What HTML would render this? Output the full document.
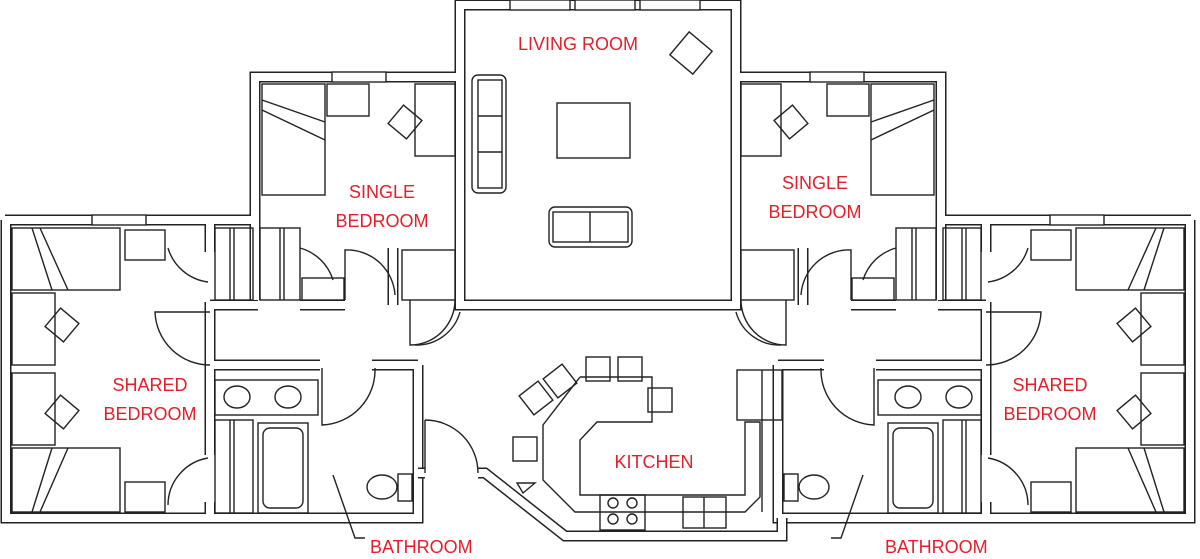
<!DOCTYPE html>
<html><head><meta charset="utf-8"><style>
html,body{margin:0;padding:0;background:#fff;}
svg{display:block}
text{font-family:"Liberation Sans",sans-serif;font-size:18px;fill:#e3202a;}
</style></head><body>
<svg width="1200" height="559" viewBox="0 0 1200 559" xmlns="http://www.w3.org/2000/svg">
<defs>
<path id="walls" d="M598,5 H460 V305 H598
M460,77 H255 V300
M5,220 H255
M6,220 V518 H418 V365
M210,220 V252 M210,302 V455 M210,502 V518
M210,305 H258 M300,305 H345
M393,248 V305
M210,365 H320 M372,365 H418"/>
<path id="kw" d="M418,473 H425 M478,473 H485 L565,536 H782 V518"/>
<g id="half" fill="none" stroke="#222" stroke-width="1.4">
  <rect x="332" y="72" width="54" height="10" fill="#fff"/>
  <rect x="92" y="215" width="54" height="10" fill="#fff"/>
  <rect x="262" y="84" width="63" height="111"/>
  <path d="M262,100 L325,122 M262,110 L325,140"/>
  <rect x="327" y="84" width="42" height="32"/>
  <rect x="415" y="84" width="40" height="72"/>
  <rect x="393" y="110" width="24" height="24" transform="rotate(40 405 122)"/>
  <rect x="260" y="228" width="40" height="72"/>
  <path d="M280,228 V300 M284,228 V300"/>
  <rect x="302" y="278" width="42" height="22"/>
  <path d="M345,300 V250 A48,48 0 0 1 395,295" />
  <path d="M300,248 A48,48 0 0 1 333,280"/>
  <rect x="215" y="228" width="38" height="72"/>
  <path d="M230,228 V300 M234,228 V300"/>
  <rect x="215" y="420" width="38" height="93"/>
  <path d="M230,420 V513 M234,420 V513"/>
  <rect x="12" y="228" width="108" height="62"/>
  <path d="M32,228 L52,290 M40,228 L68,290"/>
  <rect x="125" y="230" width="40" height="30"/>
  <path d="M168,248 A48,48 0 0 0 208,282"/>
  <rect x="12" y="293" width="43" height="72"/>
  <rect x="50" y="313" width="24" height="24" transform="rotate(40 62 325)"/>
  <rect x="12" y="373" width="43" height="72"/>
  <rect x="50" y="400" width="24" height="24" transform="rotate(40 62 412)"/>
  <rect x="12" y="448" width="108" height="64"/>
  <path d="M52,448 L32,512 M68,448 L40,512"/>
  <rect x="125" y="482" width="40" height="30"/>
  <path d="M168,505 A48,48 0 0 1 208,458"/>
  <path d="M210,312 H155 A55,55 0 0 0 210,365"/>
  <rect x="215" y="380" width="103" height="35"/>
  <ellipse cx="237" cy="397" rx="13" ry="11"/>
  <ellipse cx="288" cy="397" rx="13" ry="11"/>
  <rect x="258" y="423" width="50" height="90"/>
  <rect x="263" y="428" width="40" height="80" rx="7"/>
  <path d="M322,368 V425 A55,55 0 0 0 375,368"/>
  <ellipse cx="382" cy="487" rx="15" ry="12"/>
  <rect x="398" y="474" width="14" height="27"/>
  <rect x="402" y="250" width="53" height="50"/>
  <path d="M410,300 V345 A45,45 0 0 0 455,300"/>
  <path d="M460,312 A45,45 0 0 1 415,345"/>
  <path d="M333,475 L355,538 H365"/>
</g>
</defs>

<g fill="none" stroke-linecap="butt" stroke-linejoin="miter">
  <use href="#walls" stroke="#222" stroke-width="11"/>
  <use href="#walls" stroke="#fff" stroke-width="8"/>
  <use href="#walls" stroke="#222" stroke-width="11" transform="matrix(-1 0 0 1 1196 0)"/>
  <use href="#walls" stroke="#fff" stroke-width="8" transform="matrix(-1 0 0 1 1196 0)"/>
  <use href="#kw" stroke="#222" stroke-width="11"/>
  <use href="#kw" stroke="#fff" stroke-width="8"/>
</g>

<use href="#half"/>
<use href="#half" transform="matrix(-1 0 0 1 1196 0)"/>

<g fill="none" stroke="#222" stroke-width="1.4">
  <path d="M425,420 V473 M425,420 A53,53 0 0 1 478,473"/>
  <rect x="510" y="0" width="60" height="10" fill="#fff"/>
  <rect x="575" y="0" width="60" height="10" fill="#fff"/>
  <rect x="640" y="0" width="60" height="10" fill="#fff"/>
  <rect x="472" y="75" width="34" height="118" rx="6"/>
  <rect x="478" y="80" width="24" height="108"/>
  <path d="M478,116 H502 M478,152 H502"/>
  <rect x="557" y="103" width="73" height="55"/>
  <rect x="549" y="207" width="83" height="40" rx="6"/>
  <rect x="553" y="212" width="75" height="30"/>
  <path d="M590,212 V242"/>
  <rect x="676" y="38" width="30" height="30" transform="rotate(40 691 53)"/>
  <path d="M580,377 H652 V422 H597 L580,440 V495 H745 V422 H760 V497 L745,512 H575 L543,480 V425 L580,377"/>
  <rect x="600" y="495" width="45" height="35"/>
  <circle cx="613" cy="503" r="5"/><circle cx="632" cy="503" r="5"/>
  <circle cx="613" cy="519" r="5"/><circle cx="632" cy="519" r="5"/>
  <rect x="683" y="497" width="43" height="31"/>
  <path d="M704,497 V528"/>
  <rect x="737" y="370" width="45" height="50"/>
  <path d="M762,370 V512"/>
  <path d="M517,483 L535,483 L523,493 Z"/>
  <rect x="586" y="357" width="24" height="24"/>
  <rect x="618" y="357" width="24" height="24"/>
  <rect x="648" y="388" width="24" height="24"/>
  <rect x="513" y="437" width="24" height="24"/>
  <rect x="524" y="386" width="24" height="24" transform="rotate(-38 536 398)"/>
  <rect x="548" y="369" width="24" height="24" transform="rotate(-38 560 381)"/>
</g>

<text x="578" y="50" text-anchor="middle">LIVING ROOM</text>
<text x="382" y="198" text-anchor="middle">SINGLE</text>
<text x="382" y="227" text-anchor="middle">BEDROOM</text>
<text x="815" y="189" text-anchor="middle">SINGLE</text>
<text x="815" y="218" text-anchor="middle">BEDROOM</text>
<text x="150" y="391" text-anchor="middle">SHARED</text>
<text x="150" y="420" text-anchor="middle">BEDROOM</text>
<text x="1050" y="391" text-anchor="middle">SHARED</text>
<text x="1050" y="420" text-anchor="middle">BEDROOM</text>
<text x="654" y="468" text-anchor="middle">KITCHEN</text>
<text x="370" y="553">BATHROOM</text>
<text x="885" y="553">BATHROOM</text>
</svg>
</body></html>
